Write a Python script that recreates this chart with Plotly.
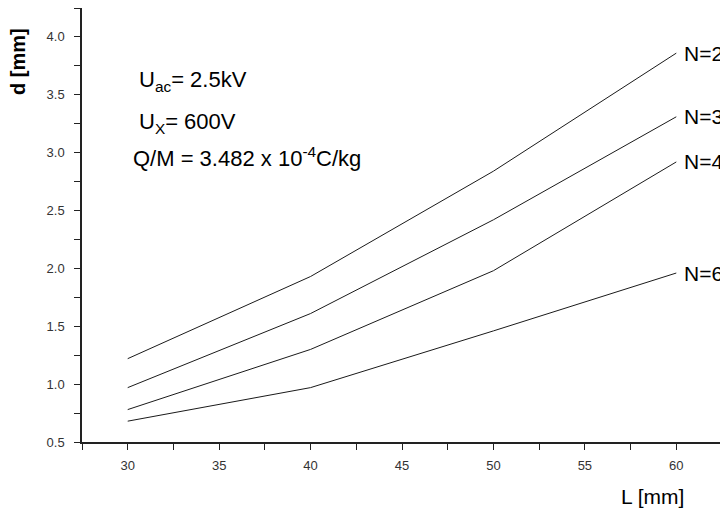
import plotly.graph_objects as go

L_mm = [30, 40, 50, 60]
series_names = ["N=2", "N=3", "N=4", "N=6"]
d_N2 = [1.22, 1.93, 2.84, 3.86]
d_N3 = [0.97, 1.61, 2.42, 3.31]
d_N4 = [0.78, 1.30, 1.98, 2.92]
d_N6 = [0.68, 0.97, 1.46, 1.96]
all_series = [d_N2, d_N3, d_N4, d_N6]

fig = go.Figure()
for name, vals in zip(series_names, all_series):
    fig.add_trace(go.Scatter(x=L_mm, y=vals, mode="lines", name=name,
                             line=dict(color="#1a1a1a", width=1), showlegend=False))
    fig.add_annotation(x=L_mm[-1], y=vals[-1], xref="x", yref="y", text=name,
                       showarrow=False, xanchor="left", yanchor="middle", xshift=6,
                       font=dict(family="Arial, Liberation Sans", size=21, color="#000"))

axis_common = dict(showline=True, linecolor="#222", linewidth=1.5, ticks="outside",
                   ticklen=6, tickwidth=1.2, tickcolor="#222", showgrid=False, zeroline=False,
                   tickfont=dict(family="Arial, Liberation Sans", size=13, color="#333"))

fig.update_xaxes(range=[27.5, 62.5], dtick=5, tick0=0,
                 minor=dict(dtick=2.5, ticks="outside", ticklen=6, tickcolor="#222", showgrid=False),
                 ticklabelstandoff=5, **axis_common)
fig.update_yaxes(range=[0.5, 4.25], dtick=0.5, tick0=0, tickformat=".1f",
                 minor=dict(dtick=0.25, ticks="outside", ticklen=6, tickcolor="#222", showgrid=False),
                 ticklabelstandoff=7, **axis_common)

txt_font = dict(family="Arial, Liberation Sans", size=22, color="#000")
fig.add_annotation(xref="paper", yref="paper", x=(137 - 82) / 640, y=(442 - 81) / 434,
                   text="U<sub>ac</sub>= 2.5kV",
                   showarrow=False, xanchor="left", yanchor="middle", font=txt_font)
fig.add_annotation(xref="paper", yref="paper", x=(137 - 82) / 640, y=(442 - 123) / 434,
                   text="U<sub>X</sub>= 600V",
                   showarrow=False, xanchor="left", yanchor="middle", font=txt_font)
fig.add_annotation(xref="paper", yref="paper", x=(131 - 82) / 640, y=(442 - 157) / 434,
                   text="Q/M = 3.482 x 10<sup>-4</sup>C/kg",
                   showarrow=False, xanchor="left", yanchor="middle", font=txt_font)

fig.add_annotation(xref="paper", yref="paper", x=(18 - 82) / 640, y=(442 - 62) / 434,
                   text="<b>d [mm]</b>", textangle=-90, showarrow=False,
                   xanchor="center", yanchor="middle",
                   font=dict(family="Arial, Liberation Sans", size=20, color="#000"))
fig.add_annotation(xref="paper", yref="paper", x=(652 - 82) / 640, y=(442 - 496) / 434,
                   text="L [mm]", showarrow=False, xanchor="center", yanchor="middle",
                   font=dict(family="Arial, Liberation Sans", size=21, color="#000"))

# page body has an 8px margin, so the figure is sized/offset to fit the 728x512 view
fig.update_layout(width=720, height=504, margin=dict(l=74, r=6, t=0, b=70),
                  paper_bgcolor="white", plot_bgcolor="white")

fig.write_html("out.html")
